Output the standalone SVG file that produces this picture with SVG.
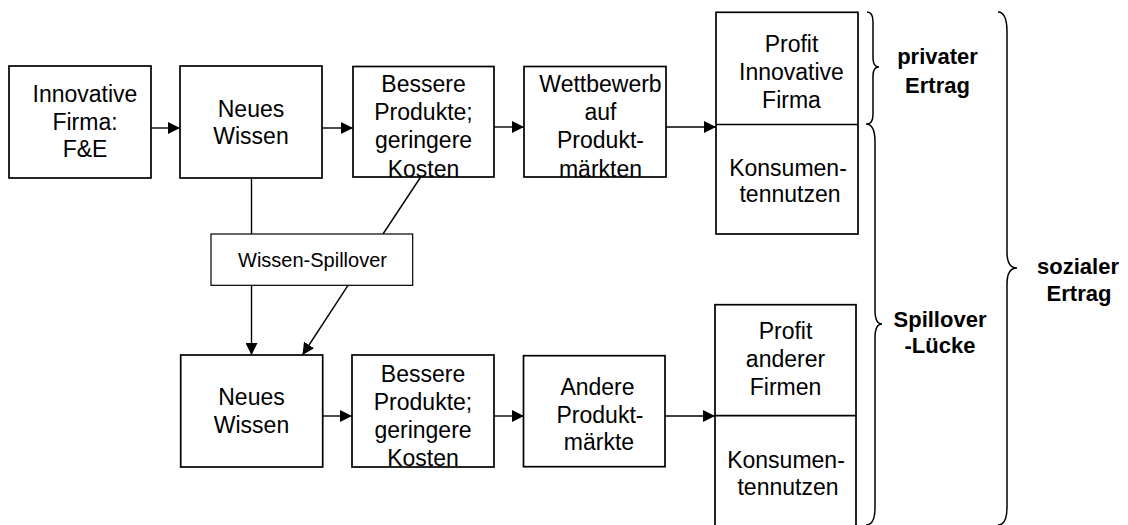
<svg xmlns="http://www.w3.org/2000/svg" width="1128" height="525" viewBox="0 0 1128 525">
  <style>
    .box { fill: #fff; stroke: #000; stroke-width: 1.7; }
    .thin { fill: #fff; stroke: #000; stroke-width: 1.2; }
    .ln { fill: none; stroke: #000; stroke-width: 1.4; }
    .br { fill: none; stroke: #000; stroke-width: 1.5; }
    .t { font-family: "Liberation Sans", Arial, sans-serif; font-size: 23px; fill: #000; text-anchor: middle; }
    .s { font-family: "Liberation Sans", Arial, sans-serif; font-size: 20px; fill: #000; text-anchor: middle; }
    .b { font-family: "Liberation Sans", Arial, sans-serif; font-size: 22px; font-weight: bold; fill: #000; text-anchor: middle; }
  </style>
  <defs>
    <marker id="arrow" markerUnits="userSpaceOnUse" markerWidth="13" markerHeight="12" refX="12" refY="6" orient="auto">
      <path d="M0,0 L12,6 L0,12 z" fill="#000"/>
    </marker>
  </defs>

  <rect width="1128" height="525" fill="#fff"/>

  <!-- connectors -->
  <g id="connectors">
    <line class="ln" x1="151" y1="128" x2="180" y2="128" marker-end="url(#arrow)"/>
    <line class="ln" x1="322" y1="128" x2="353" y2="128" marker-end="url(#arrow)"/>
    <line class="ln" x1="494" y1="127" x2="524" y2="127" marker-end="url(#arrow)"/>
    <line class="ln" x1="666" y1="127" x2="716" y2="127" marker-end="url(#arrow)"/>
    <!-- spillover paths -->
    <line class="ln" x1="251.5" y1="178" x2="251.5" y2="234"/>
    <line class="ln" x1="251.5" y1="285" x2="251.5" y2="355" marker-end="url(#arrow)"/>
    <line class="ln" x1="420.7" y1="177" x2="383" y2="234"/>
    <line class="ln" x1="348" y1="285.3" x2="302.5" y2="355" marker-end="url(#arrow)"/>
    <!-- lower chain -->
    <line class="ln" x1="322.5" y1="416" x2="352" y2="416" marker-end="url(#arrow)"/>
    <line class="ln" x1="494" y1="416" x2="524" y2="416" marker-end="url(#arrow)"/>
    <line class="ln" x1="665" y1="416" x2="715" y2="416" marker-end="url(#arrow)"/>
  </g>

  <g id="firma-fe">
    <rect class="box" x="9" y="66" width="142" height="112"/>
    <text class="t"><tspan x="85" y="102">Innovative</tspan><tspan x="85" y="129.5">Firma:</tspan><tspan x="85" y="157">F&amp;E</tspan></text>
  </g>

  <g id="wissen-1">
    <rect class="box" x="180" y="66" width="142" height="112"/>
    <text class="t"><tspan x="251" y="116.5">Neues</tspan><tspan x="251" y="144">Wissen</tspan></text>
  </g>

  <g id="produkte-1">
    <rect class="box" x="353" y="66.5" width="141" height="110.5"/>
    <text class="t"><tspan x="423.5" y="91.7">Bessere</tspan><tspan x="423.5" y="120">Produkte;</tspan><tspan x="423.5" y="148.3">geringere</tspan><tspan x="423.5" y="176.5">Kosten</tspan></text>
  </g>

  <g id="wettbewerb">
    <rect class="box" x="524" y="66.5" width="142" height="110.5"/>
    <text class="t"><tspan x="600.5" y="91.7">Wettbewerb</tspan><tspan x="600.5" y="120">auf</tspan><tspan x="600.5" y="148.3">Produkt-</tspan><tspan x="600.5" y="176.5">märkten</tspan></text>
  </g>

  <g id="ertrag-innovator">
    <rect class="box" x="716" y="12.3" width="142" height="221.7"/>
    <line class="box" x1="716" y1="124.5" x2="858" y2="124.5"/>
    <text class="t"><tspan x="791.5" y="52">Profit</tspan><tspan x="791.5" y="80">Innovative</tspan><tspan x="791.5" y="107.5">Firma</tspan></text>
    <text class="t"><tspan x="788" y="175.5">Konsumen-</tspan><tspan x="790" y="202">tennutzen</tspan></text>
  </g>

  <g id="wissen-spillover">
    <rect class="thin" x="211" y="234" width="201.7" height="51.3"/>
    <text class="s" x="312.5" y="267.3">Wissen-Spillover</text>
  </g>

  <g id="wissen-2">
    <rect class="box" x="180.7" y="355" width="142" height="112"/>
    <text class="t"><tspan x="251.5" y="405">Neues</tspan><tspan x="251.5" y="433">Wissen</tspan></text>
  </g>

  <g id="produkte-2">
    <rect class="box" x="352" y="355" width="142" height="112"/>
    <text class="t"><tspan x="423" y="381.7">Bessere</tspan><tspan x="423" y="410">Produkte;</tspan><tspan x="423" y="438.3">geringere</tspan><tspan x="423" y="466">Kosten</tspan></text>
  </g>

  <g id="andere-maerkte">
    <rect class="box" x="523.5" y="355.7" width="141.5" height="111"/>
    <text class="t"><tspan x="597.5" y="395">Andere</tspan><tspan x="600" y="422.7">Produkt-</tspan><tspan x="599" y="450">märkte</tspan></text>
  </g>

  <g id="ertrag-andere">
    <rect class="box" x="715" y="304.7" width="141" height="230"/>
    <line class="box" x1="715" y1="415.7" x2="856" y2="415.7"/>
    <text class="t"><tspan x="785.5" y="338.5">Profit</tspan><tspan x="785.5" y="366.7">anderer</tspan><tspan x="785.5" y="395">Firmen</tspan></text>
    <text class="t"><tspan x="786" y="468">Konsumen-</tspan><tspan x="788" y="495">tennutzen</tspan></text>
  </g>

  <!-- braces -->
  <g id="privater-ertrag">
    <path class="br" d="M867 12 C871 12 873 15 873 22 L873 58 C873 64 875 67 879 67 C875 67 873 70 873 76 L873 114 C873 121 871 124 867 124"/>
    <text class="b"><tspan x="937.5" y="64">privater</tspan><tspan x="937.5" y="92.5">Ertrag</tspan></text>
  </g>

  <g id="spillover-luecke">
    <path class="br" d="M866 124 C872 124 875 129 875 142 L875 310 C875 319 877 324 882 324 C877 324 875 329 875 338 L875 508 C875 520 872 525 866 525"/>
    <text class="b"><tspan x="940" y="327">Spillover</tspan><tspan x="940" y="353">-Lücke</tspan></text>
  </g>

  <g id="sozialer-ertrag">
    <path class="br" d="M998 12 C1004 12 1007 18 1007 32 L1007 252 C1007 263 1011 268 1017 268 C1011 268 1007 273 1007 284 L1007 507 C1007 519 1004 525 998 525"/>
    <text class="b"><tspan x="1078" y="274">sozialer</tspan><tspan x="1079" y="301">Ertrag</tspan></text>
  </g>
</svg>
